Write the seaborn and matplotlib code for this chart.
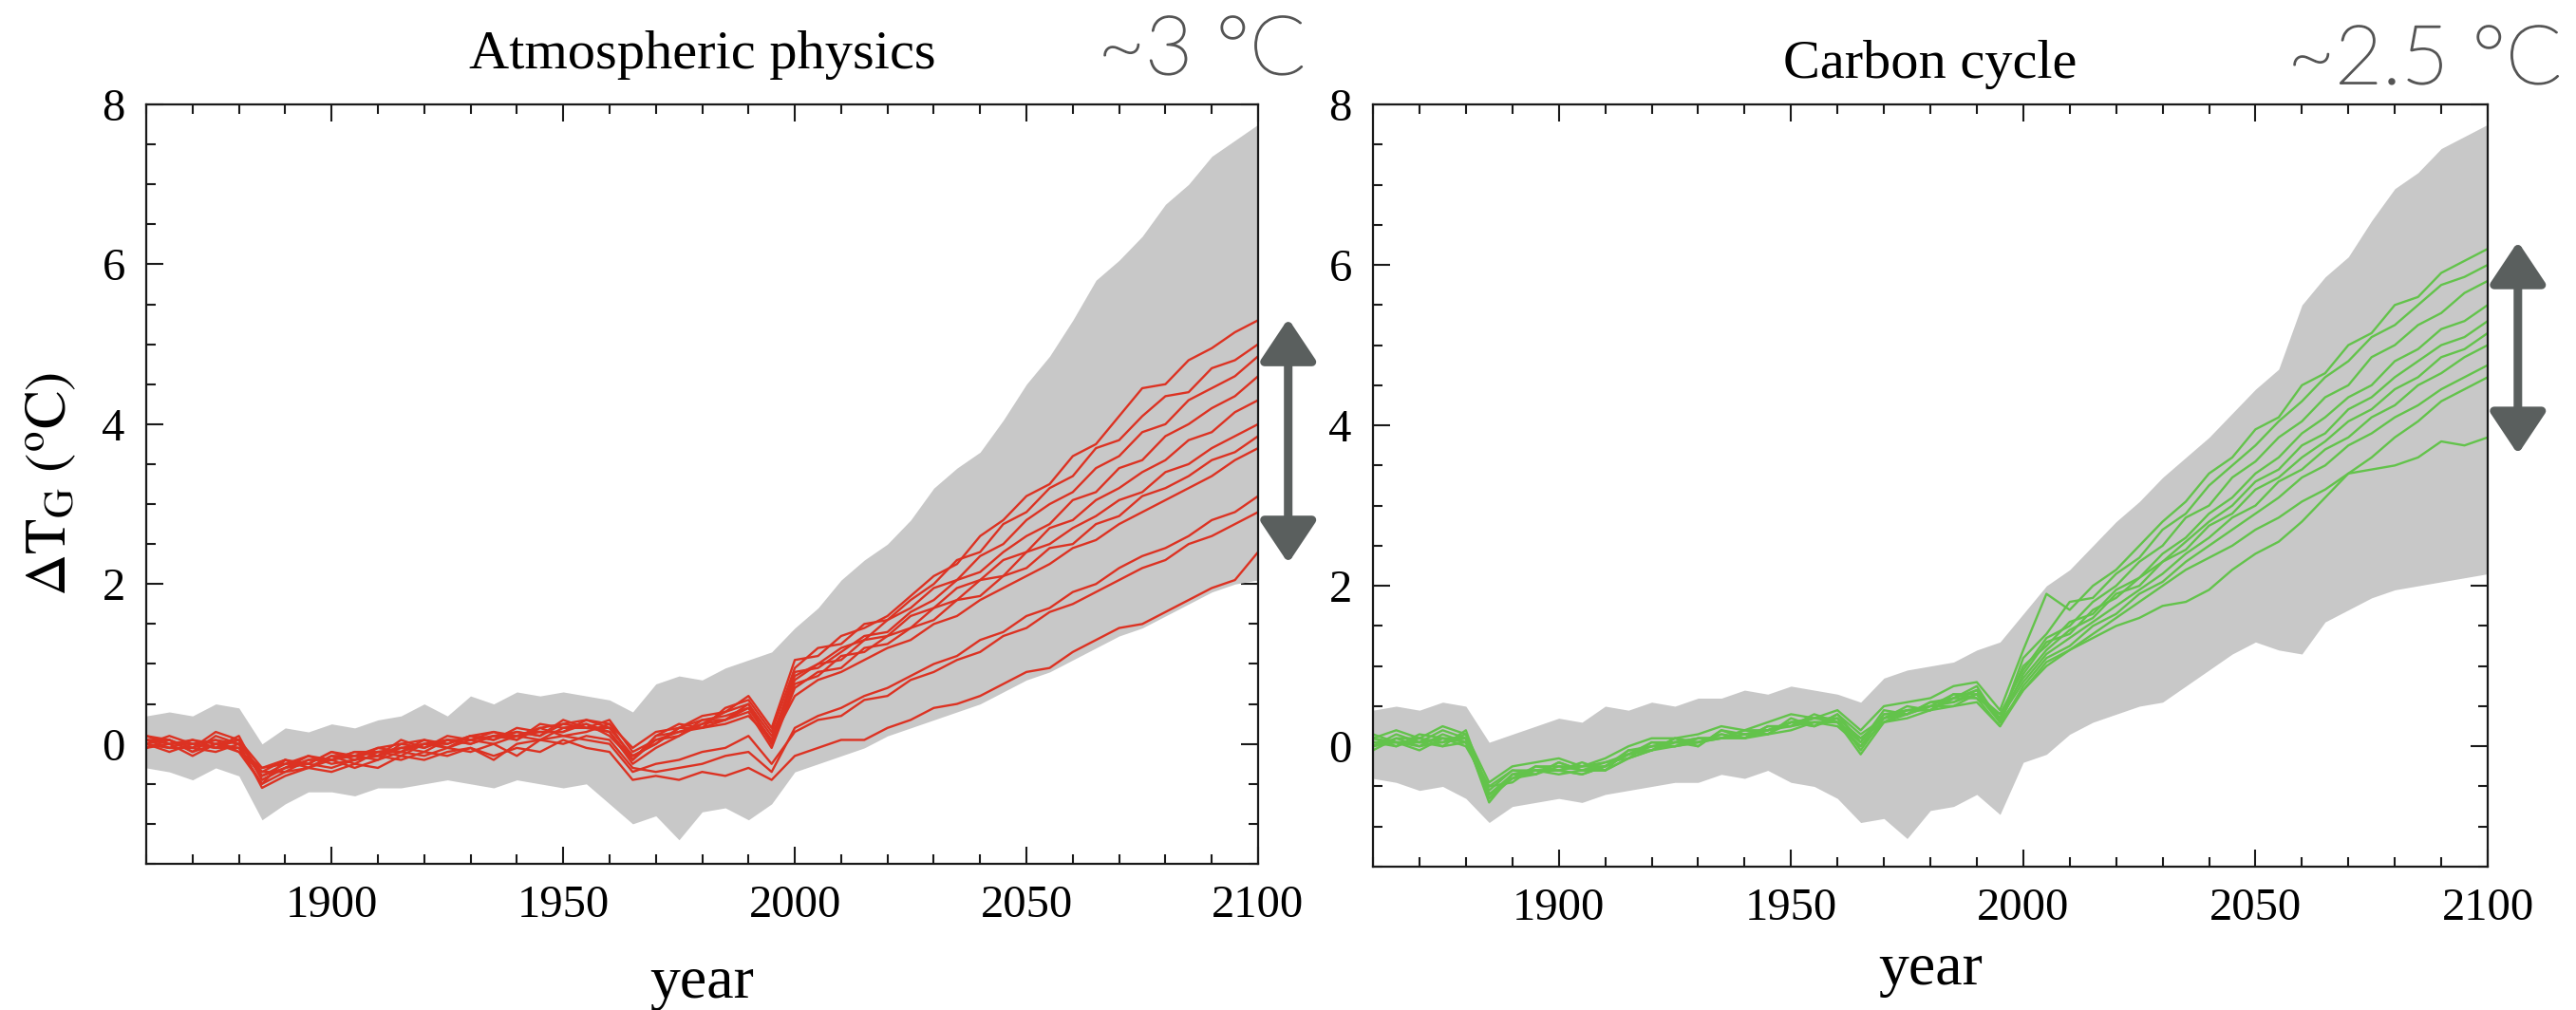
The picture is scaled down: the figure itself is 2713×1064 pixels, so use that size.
import matplotlib
matplotlib.use("Agg")
import numpy as np
import pandas as pd
import matplotlib.pyplot as plt
import matplotlib.patheffects as pe
import seaborn as sns
from matplotlib.ticker import MultipleLocator


# years sampled every 5 years, 1860 .. 2100 (49 points)
YEARS = list(range(1860, 2101, 5))

# grey envelope, atmospheric physics panel
ATM_UPPER = [0.35, 0.40, 0.35, 0.50, 0.45, 0.00, 0.20, 0.15, 0.25, 0.20,
             0.30, 0.35, 0.50, 0.35, 0.60, 0.50, 0.65, 0.60, 0.65, 0.60,
             0.55, 0.40, 0.75, 0.85, 0.80, 0.95, 1.05, 1.15,
             1.45, 1.70, 2.05, 2.30, 2.50, 2.80, 3.20, 3.45, 3.65, 4.05,
             4.50, 4.85, 5.30, 5.80, 6.05, 6.35, 6.75, 7.00, 7.35, 7.55, 7.75]
ATM_LOWER = [-0.30, -0.35, -0.45, -0.30, -0.40, -0.95, -0.75, -0.60, -0.60, -0.65,
             -0.55, -0.55, -0.50, -0.45, -0.50, -0.55, -0.45, -0.50, -0.55, -0.50,
             -0.75, -1.00, -0.90, -1.20, -0.85, -0.80, -0.95, -0.75,
             -0.35, -0.25, -0.15, -0.05, 0.10, 0.20, 0.30, 0.40, 0.50, 0.65,
             0.80, 0.90, 1.05, 1.20, 1.35, 1.45, 1.60, 1.75, 1.90, 2.00, 2.05]

# red ensemble (atmospheric physics perturbations)
RED_01 = [0.10, 0.05, -0.05, 0.15, 0.05, -0.30, -0.20, -0.25, -0.10, -0.15,
          -0.05, 0.00, 0.05, -0.05, 0.10, 0.15, 0.05, 0.20, 0.25, 0.30,
          0.25, -0.05, 0.15, 0.20, 0.35, 0.40, 0.60, 0.20,
          1.05, 1.10, 1.35, 1.45, 1.60, 1.85, 2.10, 2.25, 2.60, 2.80,
          3.10, 3.25, 3.60, 3.75, 4.10, 4.45, 4.50, 4.80, 4.95, 5.15, 5.30]
RED_02 = [0.00, 0.10, 0.00, -0.05, 0.10, -0.45, -0.30, -0.15, -0.20, -0.10,
          -0.15, 0.05, -0.05, 0.05, 0.00, 0.10, 0.15, 0.10, 0.30, 0.20,
          0.15, -0.20, 0.10, 0.25, 0.20, 0.45, 0.55, 0.15,
          0.95, 1.20, 1.25, 1.50, 1.55, 1.80, 2.00, 2.30, 2.40, 2.75,
          2.90, 3.20, 3.35, 3.70, 3.80, 4.10, 4.35, 4.40, 4.70, 4.80, 5.00]
RED_03 = [0.05, -0.05, 0.05, 0.00, -0.05, -0.50, -0.20, -0.30, -0.15, -0.25,
          -0.10, -0.10, 0.05, 0.00, 0.10, 0.05, 0.20, 0.15, 0.15, 0.30,
          0.20, -0.15, 0.00, 0.20, 0.30, 0.30, 0.50, 0.00,
          0.85, 1.00, 1.20, 1.30, 1.55, 1.70, 1.95, 2.05, 2.35, 2.50,
          2.80, 3.00, 3.15, 3.45, 3.60, 3.90, 4.00, 4.30, 4.45, 4.60, 4.85]
RED_04 = [-0.05, 0.05, -0.10, 0.10, 0.00, -0.35, -0.35, -0.20, -0.20, -0.15,
          -0.20, 0.00, -0.05, 0.10, 0.05, 0.10, 0.05, 0.25, 0.20, 0.20,
          0.30, -0.10, 0.05, 0.10, 0.30, 0.35, 0.45, 0.05,
          0.90, 0.95, 1.15, 1.35, 1.40, 1.65, 1.80, 2.05, 2.15, 2.40,
          2.60, 2.75, 3.05, 3.15, 3.45, 3.55, 3.85, 4.00, 4.20, 4.35, 4.60]
RED_05 = [0.10, 0.00, 0.05, -0.05, 0.05, -0.40, -0.25, -0.15, -0.25, -0.20,
          -0.05, -0.10, 0.00, -0.05, 0.05, 0.15, 0.10, 0.05, 0.20, 0.25,
          0.10, -0.20, 0.10, 0.15, 0.25, 0.40, 0.50, 0.10,
          0.80, 1.00, 1.05, 1.30, 1.35, 1.60, 1.70, 1.95, 2.05, 2.30,
          2.40, 2.70, 2.80, 3.05, 3.20, 3.40, 3.55, 3.80, 3.90, 4.15, 4.30]
RED_06 = [0.00, -0.05, -0.05, 0.05, -0.10, -0.30, -0.25, -0.25, -0.10, -0.20,
          -0.15, -0.05, 0.00, 0.00, 0.10, 0.05, 0.15, 0.10, 0.25, 0.20,
          0.20, -0.15, 0.00, 0.20, 0.20, 0.30, 0.45, 0.00,
          0.75, 0.85, 1.10, 1.15, 1.35, 1.45, 1.70, 1.80, 2.05, 2.10,
          2.40, 2.50, 2.70, 2.85, 3.05, 3.15, 3.40, 3.50, 3.70, 3.85, 4.00]
RED_07 = [0.05, 0.05, -0.10, 0.00, 0.05, -0.45, -0.30, -0.20, -0.20, -0.10,
          -0.10, -0.05, -0.10, 0.05, 0.00, 0.10, 0.10, 0.15, 0.15, 0.25,
          0.15, -0.25, -0.05, 0.10, 0.25, 0.30, 0.40, -0.05,
          0.70, 0.90, 0.95, 1.20, 1.25, 1.45, 1.55, 1.80, 1.85, 2.10,
          2.20, 2.45, 2.50, 2.75, 2.85, 3.10, 3.20, 3.35, 3.55, 3.65, 3.85]
RED_08 = [-0.05, 0.00, 0.00, 0.05, 0.00, -0.35, -0.20, -0.30, -0.15, -0.15,
          -0.10, -0.15, 0.00, 0.05, 0.05, 0.00, 0.10, 0.20, 0.10, 0.15,
          0.25, -0.20, 0.05, 0.15, 0.20, 0.25, 0.35, 0.05,
          0.60, 0.80, 0.90, 1.05, 1.20, 1.30, 1.50, 1.60, 1.80, 1.95,
          2.10, 2.25, 2.45, 2.55, 2.75, 2.90, 3.05, 3.20, 3.35, 3.55, 3.70]
RED_09 = [0.00, -0.10, 0.00, -0.05, -0.05, -0.40, -0.30, -0.25, -0.30, -0.20,
          -0.15, -0.20, -0.10, -0.15, -0.05, -0.20, 0.00, 0.05, 0.00, 0.10,
          0.05, -0.30, -0.35, -0.30, -0.25, -0.15, -0.10, -0.35,
          0.20, 0.35, 0.45, 0.60, 0.70, 0.85, 1.00, 1.10, 1.30, 1.40,
          1.60, 1.70, 1.90, 2.00, 2.20, 2.35, 2.45, 2.60, 2.80, 2.90, 3.10]
RED_10 = [0.05, 0.00, -0.15, 0.00, -0.10, -0.50, -0.35, -0.30, -0.20, -0.30,
          -0.20, -0.10, -0.15, -0.05, -0.10, 0.00, -0.15, 0.05, 0.10, 0.05,
          0.00, -0.35, -0.25, -0.20, -0.10, -0.05, 0.10, -0.25,
          0.15, 0.30, 0.35, 0.55, 0.60, 0.80, 0.90, 1.05, 1.15, 1.35,
          1.45, 1.65, 1.75, 1.90, 2.05, 2.20, 2.30, 2.50, 2.60, 2.75, 2.90]
RED_11 = [0.00, -0.05, -0.05, -0.10, 0.00, -0.55, -0.40, -0.30, -0.35, -0.25,
          -0.30, -0.15, -0.20, -0.10, -0.05, -0.15, -0.05, -0.10, 0.05, -0.05,
          -0.10, -0.45, -0.40, -0.45, -0.35, -0.40, -0.30, -0.45,
          -0.15, -0.05, 0.05, 0.05, 0.20, 0.30, 0.45, 0.50, 0.60, 0.75,
          0.90, 0.95, 1.15, 1.30, 1.45, 1.50, 1.65, 1.80, 1.95, 2.05, 2.40]
RED_RUNS = [RED_01, RED_02, RED_03, RED_04, RED_05, RED_06,
            RED_07, RED_08, RED_09, RED_10, RED_11]

# grey envelope, carbon cycle panel
CC_UPPER = [0.45, 0.50, 0.45, 0.55, 0.50, 0.05, 0.15, 0.25, 0.35, 0.30,
            0.50, 0.45, 0.55, 0.50, 0.60, 0.60, 0.70, 0.65, 0.75, 0.70,
            0.65, 0.55, 0.85, 0.95, 1.00, 1.05, 1.20, 1.30,
            1.65, 2.00, 2.20, 2.50, 2.80, 3.05, 3.35, 3.60, 3.85, 4.15,
            4.45, 4.70, 5.50, 5.85, 6.10, 6.55, 6.95, 7.15, 7.45, 7.60, 7.75]
CC_LOWER = [-0.40, -0.45, -0.55, -0.50, -0.65, -0.95, -0.75, -0.70, -0.65, -0.70,
            -0.60, -0.55, -0.50, -0.45, -0.45, -0.35, -0.40, -0.30, -0.45, -0.50,
            -0.65, -0.95, -0.90, -1.15, -0.80, -0.75, -0.60, -0.85,
            -0.20, -0.10, 0.15, 0.30, 0.40, 0.50, 0.55, 0.75, 0.95, 1.15,
            1.30, 1.20, 1.15, 1.55, 1.70, 1.85, 1.95, 2.00, 2.05, 2.10, 2.15]

# green ensemble (carbon cycle perturbations)
GRN_01 = [0.10, 0.20, 0.10, 0.25, 0.15, -0.45, -0.25, -0.20, -0.15, -0.25,
          -0.15, 0.00, 0.10, 0.10, 0.15, 0.25, 0.20, 0.30, 0.40, 0.35,
          0.45, 0.20, 0.50, 0.55, 0.60, 0.75, 0.80, 0.45,
          1.20, 1.90, 1.70, 2.00, 2.20, 2.50, 2.80, 3.05, 3.40, 3.60,
          3.95, 4.10, 4.50, 4.65, 5.00, 5.15, 5.50, 5.60, 5.90, 6.05, 6.20]
GRN_02 = [0.00, 0.15, 0.05, 0.00, 0.20, -0.60, -0.40, -0.25, -0.30, -0.20,
          -0.30, -0.05, -0.05, 0.10, 0.00, 0.20, 0.10, 0.25, 0.25, 0.40,
          0.30, 0.05, 0.45, 0.40, 0.55, 0.60, 0.75, 0.30,
          1.10, 1.40, 1.80, 1.85, 2.15, 2.35, 2.70, 2.90, 3.25, 3.50,
          3.75, 4.05, 4.30, 4.60, 4.80, 5.10, 5.25, 5.50, 5.75, 5.85, 6.00]
GRN_03 = [0.15, 0.05, 0.00, 0.15, 0.05, -0.50, -0.30, -0.35, -0.20, -0.30,
          -0.20, -0.15, 0.05, 0.00, 0.10, 0.10, 0.20, 0.15, 0.35, 0.25,
          0.40, 0.15, 0.35, 0.50, 0.45, 0.65, 0.65, 0.40,
          0.95, 1.35, 1.50, 1.80, 2.00, 2.30, 2.50, 2.85, 3.00, 3.35,
          3.55, 3.85, 4.05, 4.35, 4.50, 4.85, 5.00, 5.25, 5.40, 5.65, 5.80]
GRN_04 = [-0.05, 0.10, 0.10, 0.05, 0.10, -0.65, -0.35, -0.30, -0.30, -0.35,
          -0.25, -0.10, 0.00, 0.05, 0.10, 0.10, 0.15, 0.20, 0.30, 0.30,
          0.30, 0.00, 0.40, 0.45, 0.50, 0.55, 0.70, 0.35,
          1.00, 1.25, 1.55, 1.65, 1.95, 2.10, 2.40, 2.60, 2.90, 3.10,
          3.40, 3.60, 3.90, 4.10, 4.35, 4.50, 4.80, 4.95, 5.20, 5.30, 5.50]
GRN_05 = [0.05, 0.00, 0.15, 0.10, 0.00, -0.50, -0.45, -0.25, -0.25, -0.30,
          -0.30, -0.15, -0.05, 0.00, 0.05, 0.15, 0.10, 0.25, 0.25, 0.35,
          0.35, 0.10, 0.30, 0.45, 0.45, 0.60, 0.70, 0.30,
          0.90, 1.30, 1.40, 1.70, 1.85, 2.10, 2.30, 2.55, 2.80, 3.00,
          3.30, 3.45, 3.75, 3.90, 4.20, 4.35, 4.60, 4.80, 5.00, 5.10, 5.30]
GRN_06 = [0.10, 0.05, 0.05, 0.20, 0.10, -0.70, -0.35, -0.35, -0.25, -0.25,
          -0.20, -0.10, 0.05, 0.05, 0.00, 0.20, 0.15, 0.15, 0.30, 0.25,
          0.40, 0.05, 0.40, 0.40, 0.50, 0.65, 0.60, 0.40,
          0.85, 1.20, 1.45, 1.60, 1.90, 2.00, 2.30, 2.45, 2.75, 2.90,
          3.20, 3.35, 3.60, 3.80, 4.05, 4.20, 4.45, 4.60, 4.85, 4.95, 5.15]
GRN_07 = [0.00, 0.10, 0.00, 0.05, 0.15, -0.55, -0.30, -0.30, -0.35, -0.30,
          -0.25, -0.05, 0.00, 0.00, 0.05, 0.10, 0.15, 0.20, 0.25, 0.30,
          0.30, 0.10, 0.35, 0.40, 0.55, 0.55, 0.65, 0.35,
          0.80, 1.15, 1.35, 1.55, 1.75, 1.95, 2.15, 2.40, 2.60, 2.85,
          3.00, 3.30, 3.45, 3.70, 3.85, 4.10, 4.25, 4.50, 4.65, 4.85, 5.00]
GRN_08 = [0.10, 0.00, 0.10, 0.00, 0.05, -0.60, -0.40, -0.35, -0.20, -0.30,
          -0.30, -0.15, -0.05, 0.10, 0.05, 0.15, 0.10, 0.20, 0.30, 0.25,
          0.35, -0.05, 0.35, 0.45, 0.45, 0.60, 0.60, 0.25,
          0.75, 1.10, 1.25, 1.50, 1.65, 1.90, 2.05, 2.30, 2.50, 2.70,
          2.90, 3.10, 3.35, 3.50, 3.75, 3.90, 4.10, 4.25, 4.45, 4.60, 4.75]
GRN_09 = [0.05, 0.05, 0.05, 0.10, 0.05, -0.60, -0.35, -0.30, -0.30, -0.25,
          -0.25, -0.10, 0.00, 0.05, 0.10, 0.10, 0.20, 0.20, 0.30, 0.35,
          0.30, -0.10, 0.30, 0.40, 0.50, 0.50, 0.65, 0.30,
          0.70, 1.00, 1.20, 1.35, 1.50, 1.60, 1.75, 1.80, 1.95, 2.20,
          2.40, 2.55, 2.80, 3.10, 3.40, 3.60, 3.85, 4.05, 4.30, 4.45, 4.60]
GRN_10 = [0.00, 0.05, -0.05, 0.10, 0.10, -0.65, -0.40, -0.30, -0.30, -0.35,
          -0.25, -0.10, -0.05, 0.05, 0.05, 0.10, 0.10, 0.15, 0.20, 0.30,
          0.25, 0.00, 0.30, 0.35, 0.45, 0.50, 0.55, 0.25,
          0.70, 1.05, 1.20, 1.40, 1.60, 1.80, 2.00, 2.20, 2.35, 2.50,
          2.70, 2.85, 3.05, 3.20, 3.40, 3.45, 3.50, 3.60, 3.80, 3.75, 3.85]
GRN_RUNS = [GRN_01, GRN_02, GRN_03, GRN_04, GRN_05,
            GRN_06, GRN_07, GRN_08, GRN_09, GRN_10]

# spread of the ensemble at 2100, shown by the double arrows
ATM_SPREAD = (2.26, 5.32)
CC_SPREAD = (3.64, 6.29)

RED = "#dc3222"
GREEN = "#63c34b"
GREY = "#c8c8c8"
ARROW = "#5a5f5e"
NOTE = "#555555"
SERIF = ["Liberation Serif", "DejaVu Serif"]


def runs_frame(runs):
    rows = []
    for i, run in enumerate(runs):
        for yr, val in zip(YEARS, run):
            rows.append({"year": yr, "dT": val, "run": i})
    return pd.DataFrame(rows)


def draw_panel(ax, runs, upper, lower, color, title, title_pad, spread, xpad):
    ax.fill_between(YEARS, lower, upper, color=GREY, linewidth=0, zorder=1)
    sns.lineplot(data=runs_frame(runs), x="year", y="dT", units="run",
                 estimator=None, color=color, linewidth=1.7, ax=ax,
                 legend=False, zorder=2)

    ax.set_xlim(1860, 2100)
    ax.set_ylim(-1.5, 8)
    ax.xaxis.set_major_locator(MultipleLocator(50))
    ax.xaxis.set_minor_locator(MultipleLocator(10))
    ax.yaxis.set_major_locator(MultipleLocator(2))
    ax.yaxis.set_minor_locator(MultipleLocator(0.5))
    ax.tick_params(which="both", direction="in", top=True, right=True,
                   width=1.5, color="#1a1a1a", labelcolor="black",
                   labelsize=35, pad=16)
    ax.tick_params(which="major", length=13)
    ax.tick_params(which="minor", length=7)
    for sp in ax.spines.values():
        sp.set_linewidth(1.6)
        sp.set_color("#1a1a1a")

    ax.set_title(title, fontsize=42, color="black", pad=title_pad)
    ax.set_xlabel("year", fontsize=46, color="black", labelpad=xpad)
    ax.set_ylabel("")

    lo, hi = spread
    ax.annotate("", xy=(2106.5, hi), xytext=(2106.5, lo),
                arrowprops=dict(arrowstyle="<|-|>,head_length=0.9,head_width=0.6",
                                color=ARROW, lw=6.5, mutation_scale=30,
                                shrinkA=0, shrinkB=0),
                annotation_clip=False)


sns.set_style("ticks")
plt.rcParams["font.family"] = SERIF
plt.rcParams["mathtext.fontset"] = "stix"
plt.rcParams["text.color"] = "black"

W, H = 2713, 1064
fig = plt.figure(figsize=(W / 100, H / 100), dpi=100)
ax1 = fig.add_axes([154 / W, 1 - 910 / H, (1325 - 154) / W, (910 - 110) / H])
ax2 = fig.add_axes([1446 / W, 1 - 913 / H, (2620 - 1446) / W, (913 - 110) / H])

draw_panel(ax1, RED_RUNS, ATM_UPPER, ATM_LOWER, RED,
           "Atmospheric physics", 27, ATM_SPREAD, 22)
draw_panel(ax2, GRN_RUNS, CC_UPPER, CC_LOWER, GREEN,
           "Carbon cycle", 20, CC_SPREAD, 10)

ax1.set_ylabel(r"$\Delta\mathrm{T}_{\mathrm{G}}\ (^{\mathrm{o}}\mathrm{C})$",
               fontsize=44, color="black", labelpad=18)

# thin grey sans labels in the top right corners
thicken = [pe.withStroke(linewidth=1.3, foreground=NOTE)]
fig.text(1375 / W, 1 - 78 / H, "~3 °C", ha="right", va="baseline",
         fontsize=62, family=["Lato", "DejaVu Sans"], fontweight="light",
         color=NOTE, path_effects=thicken)
fig.text(2698 / W, 1 - 88 / H, "~2.5 °C", ha="right", va="baseline",
         fontsize=62, family=["Lato", "DejaVu Sans"], fontweight="light",
         color=NOTE, path_effects=thicken)

fig.savefig("out.png", dpi=100)
